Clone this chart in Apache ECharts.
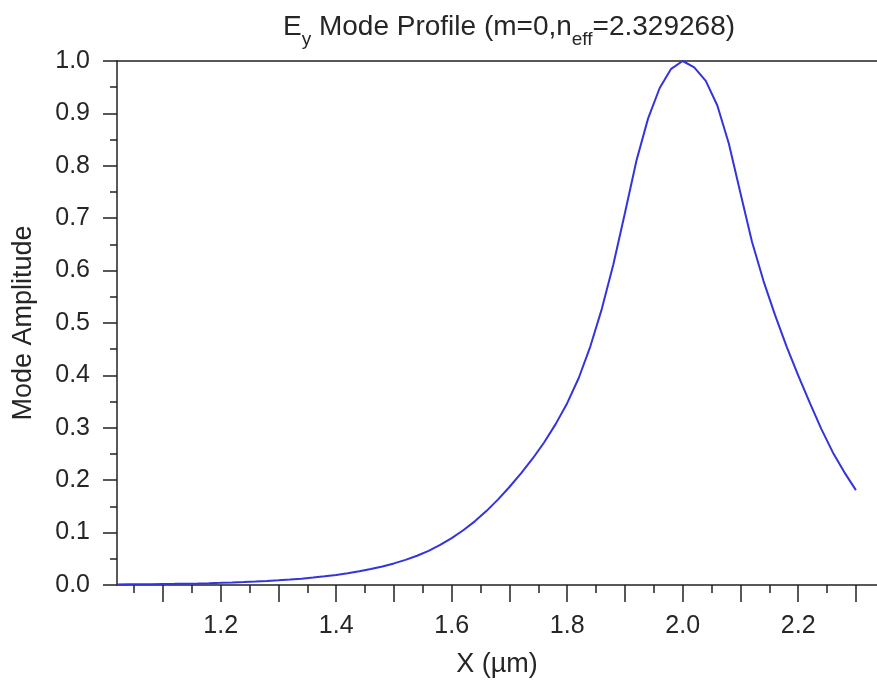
<!DOCTYPE html>
<html>
<head>
<meta charset="utf-8">
<script src="https://cdn.jsdelivr.net/npm/echarts@6/dist/echarts.min.js"></script>
<style>
  html, body { margin: 0; padding: 0; background: #fff; }
  #chart { width: 877px; height: 683px; }
</style>
</head>
<body>
<div id="chart"></div>
<script>
// mode profile samples
var xValues = [1.02, 1.04, 1.06, 1.08, 1.10, 1.12, 1.14, 1.16, 1.18, 1.20,
  1.22, 1.24, 1.26, 1.28, 1.30, 1.32, 1.34, 1.36, 1.38, 1.40,
  1.42, 1.44, 1.46, 1.48, 1.50, 1.52, 1.54, 1.56, 1.58, 1.60,
  1.62, 1.64, 1.66, 1.68, 1.70, 1.72, 1.74, 1.76, 1.78, 1.80,
  1.82, 1.84, 1.86, 1.88, 1.90, 1.92, 1.94, 1.96, 1.98, 2.00,
  2.02, 2.04, 2.06, 2.08, 2.10, 2.12, 2.14, 2.16, 2.18, 2.20,
  2.22, 2.24, 2.26, 2.28, 2.30];
var amplitude = [0.0010, 0.0012, 0.0014, 0.0016, 0.0019, 0.0022, 0.0026, 0.0030, 0.0035, 0.0041,
  0.0048, 0.0056, 0.0065, 0.0076, 0.0089, 0.0104, 0.0121, 0.0141, 0.0165, 0.0192,
  0.0224, 0.0261, 0.0304, 0.0354, 0.0412, 0.0479, 0.0558, 0.0650, 0.0765, 0.0895,
  0.1045, 0.1215, 0.1410, 0.1630, 0.1870, 0.2130, 0.2410, 0.2720, 0.3070, 0.3470,
  0.3950, 0.4550, 0.5270, 0.6120, 0.7100, 0.8100, 0.8900, 0.9480, 0.9850, 1.0000,
  0.9880, 0.9620, 0.9150, 0.8420, 0.7480, 0.6550, 0.5800, 0.5150, 0.4550, 0.4000,
  0.3480, 0.2980, 0.2530, 0.2150, 0.1810];

var xMajorTicks = [1.1, 1.2, 1.3, 1.4, 1.5, 1.6, 1.7, 1.8, 1.9, 2.0, 2.1, 2.2, 2.3];
var xMinorTicks = [1.05, 1.15, 1.25, 1.35, 1.45, 1.55, 1.65, 1.75, 1.85, 1.95, 2.05, 2.15, 2.25];
var xTickLabels = [1.2, 1.4, 1.6, 1.8, 2.0, 2.2];

var xMin = 1.0204, xMax = 2.3365;

var points = xValues.map(function (x, i) { return [x, amplitude[i]]; });

var chart = echarts.init(document.getElementById('chart'), null, { renderer: 'canvas' });

var txt = '#262626';
var font = '"Liberation Sans", Arial, sans-serif';
var axisLine = { show: true, lineStyle: { color: '#222', width: 1.5 } };

chart.setOption({
  backgroundColor: '#fff',
  animation: false,
  title: {
    text: '{a|E}{s|y}{a| Mode Profile (m=0,n}{s|eff}{a|=2.329268)}',
    left: 504,
    top: 8,
    textAlign: 'center',
    textStyle: {
      rich: {
        a: { fontFamily: font, fontSize: 28, fontWeight: 'normal', color: txt, lineHeight: 32, verticalAlign: 'top' },
        s: { fontFamily: font, fontSize: 19, fontWeight: 'normal', color: txt, lineHeight: 20, padding: [17, 0, 0, 0], verticalAlign: 'top' }
      }
    }
  },
  grid: { left: 117, right: 0, top: 61, bottom: 98, containLabel: false, outerBoundsMode: 'none' },
  xAxis: [
    {
      type: 'value', min: xMin, max: xMax, position: 'bottom',
      name: 'X (\u00b5m)', nameLocation: 'middle', nameGap: 66,
      nameTextStyle: { fontFamily: font, fontSize: 27, color: txt },
      axisLine: axisLine,
      axisTick: { show: true, length: 17, customValues: xMajorTicks, lineStyle: { color: '#222', width: 1.5 } },
      axisLabel: { customValues: xTickLabels, fontFamily: font, fontSize: 25, color: txt, margin: 29,
        formatter: function (v) { return v.toFixed(1); } },
      splitLine: { show: false }
    },
    {
      type: 'value', min: xMin, max: xMax, position: 'bottom',
      axisLine: { show: false },
      axisTick: { show: true, length: 8, customValues: xMinorTicks, lineStyle: { color: '#222', width: 1.5 } },
      axisLabel: { show: false },
      splitLine: { show: false }
    },
    {
      type: 'value', min: xMin, max: xMax, position: 'top',
      axisLine: axisLine,
      axisTick: { show: false },
      axisLabel: { show: false },
      splitLine: { show: false }
    }
  ],
  yAxis: {
    type: 'value', min: 0, max: 1, interval: 0.1,
    name: 'Mode Amplitude', nameLocation: 'middle', nameGap: 80,
    nameTextStyle: { fontFamily: font, fontSize: 27, color: txt },
    axisLine: axisLine,
    axisTick: { show: true, length: 14, lineStyle: { color: '#222', width: 1.5 } },
    minorTick: { show: true, splitNumber: 2, length: 7, lineStyle: { color: '#222', width: 1.5 } },
    axisLabel: { fontFamily: font, fontSize: 25, color: txt, margin: 27,
      formatter: function (v) { return v.toFixed(1); } },
    splitLine: { show: false },
    minorSplitLine: { show: false }
  },
  series: [{
    type: 'line',
    data: points,
    showSymbol: false,
    symbol: 'none',
    smooth: false,
    lineStyle: { color: '#3434dc', width: 2 },
    z: 3
  }]
});
</script>
</body>
</html>
